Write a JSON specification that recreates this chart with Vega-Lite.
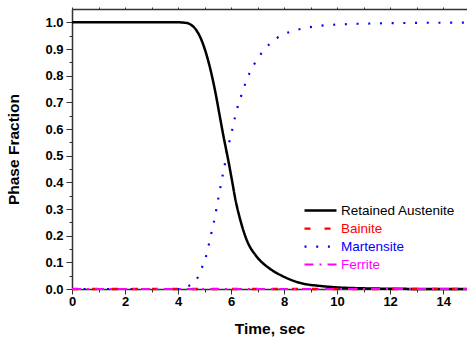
{
  "$schema": "https://vega.github.io/schema/vega-lite/v6.json",
  "width": 395,
  "height": 280,
  "autosize": {"type": "none"},
  "padding": {"left": 72, "top": 9, "right": 0, "bottom": 52},
  "background": "white",
  "config": {"view": {"stroke": null}, "font": "Liberation Sans"},
  "data": {
    "values": [
      {"p": "Martensite", "t": 0, "f": 0},
      {"p": "Martensite", "t": 4.0, "f": 0},
      {"p": "Martensite", "t": 4.2, "f": 0.002},
      {"p": "Martensite", "t": 4.35, "f": 0.008},
      {"p": "Martensite", "t": 4.5, "f": 0.018},
      {"p": "Martensite", "t": 4.7, "f": 0.036},
      {"p": "Martensite", "t": 4.89, "f": 0.078},
      {"p": "Martensite", "t": 5.04, "f": 0.117},
      {"p": "Martensite", "t": 5.14, "f": 0.157},
      {"p": "Martensite", "t": 5.23, "f": 0.198},
      {"p": "Martensite", "t": 5.32, "f": 0.237},
      {"p": "Martensite", "t": 5.41, "f": 0.279},
      {"p": "Martensite", "t": 5.48, "f": 0.32},
      {"p": "Martensite", "t": 5.56, "f": 0.36},
      {"p": "Martensite", "t": 5.63, "f": 0.4},
      {"p": "Martensite", "t": 5.71, "f": 0.44},
      {"p": "Martensite", "t": 5.79, "f": 0.481},
      {"p": "Martensite", "t": 5.86, "f": 0.521},
      {"p": "Martensite", "t": 5.96, "f": 0.562},
      {"p": "Martensite", "t": 6.05, "f": 0.6},
      {"p": "Martensite", "t": 6.15, "f": 0.644},
      {"p": "Martensite", "t": 6.25, "f": 0.684},
      {"p": "Martensite", "t": 6.38, "f": 0.724},
      {"p": "Martensite", "t": 6.52, "f": 0.765},
      {"p": "Martensite", "t": 6.68, "f": 0.806},
      {"p": "Martensite", "t": 6.89, "f": 0.846},
      {"p": "Martensite", "t": 7.16, "f": 0.886},
      {"p": "Martensite", "t": 7.53, "f": 0.926},
      {"p": "Martensite", "t": 7.96, "f": 0.954},
      {"p": "Martensite", "t": 8.39, "f": 0.969},
      {"p": "Martensite", "t": 8.82, "f": 0.979},
      {"p": "Martensite", "t": 9.25, "f": 0.986},
      {"p": "Martensite", "t": 9.69, "f": 0.99},
      {"p": "Martensite", "t": 10.1, "f": 0.992},
      {"p": "Martensite", "t": 10.53, "f": 0.994},
      {"p": "Martensite", "t": 11, "f": 0.995},
      {"p": "Martensite", "t": 12, "f": 0.997},
      {"p": "Martensite", "t": 13, "f": 0.998},
      {"p": "Martensite", "t": 14.9, "f": 0.999},
      {"p": "Retained Austenite", "t": 0, "f": 1},
      {"p": "Retained Austenite", "t": 2, "f": 1},
      {"p": "Retained Austenite", "t": 4, "f": 1},
      {"p": "Retained Austenite", "t": 4.2, "f": 0.999},
      {"p": "Retained Austenite", "t": 4.39, "f": 0.996},
      {"p": "Retained Austenite", "t": 4.5, "f": 0.99},
      {"p": "Retained Austenite", "t": 4.64, "f": 0.977},
      {"p": "Retained Austenite", "t": 4.83, "f": 0.946},
      {"p": "Retained Austenite", "t": 5.02, "f": 0.896},
      {"p": "Retained Austenite", "t": 5.21, "f": 0.828},
      {"p": "Retained Austenite", "t": 5.4, "f": 0.742},
      {"p": "Retained Austenite", "t": 5.58, "f": 0.645},
      {"p": "Retained Austenite", "t": 5.71, "f": 0.575},
      {"p": "Retained Austenite", "t": 5.81, "f": 0.525},
      {"p": "Retained Austenite", "t": 5.9, "f": 0.48},
      {"p": "Retained Austenite", "t": 6.03, "f": 0.41},
      {"p": "Retained Austenite", "t": 6.15, "f": 0.343},
      {"p": "Retained Austenite", "t": 6.34, "f": 0.262},
      {"p": "Retained Austenite", "t": 6.59, "f": 0.184},
      {"p": "Retained Austenite", "t": 6.97, "f": 0.121},
      {"p": "Retained Austenite", "t": 7.41, "f": 0.08},
      {"p": "Retained Austenite", "t": 7.91, "f": 0.05},
      {"p": "Retained Austenite", "t": 8.6, "f": 0.023},
      {"p": "Retained Austenite", "t": 9.4, "f": 0.011},
      {"p": "Retained Austenite", "t": 10, "f": 0.006},
      {"p": "Retained Austenite", "t": 11, "f": 0.0025},
      {"p": "Retained Austenite", "t": 12, "f": 0.001},
      {"p": "Retained Austenite", "t": 13, "f": 0.0003},
      {"p": "Retained Austenite", "t": 14.9, "f": 0},
      {"p": "Bainite", "t": 0, "f": 0},
      {"p": "Bainite", "t": 14.9, "f": 0},
      {"p": "Ferrite", "t": 0, "f": 0},
      {"p": "Ferrite", "t": 14.9, "f": 0}
    ]
  },
  "layer": [
    {
      "mark": {"type": "line", "clip": false, "interpolate": "monotone"},
      "encoding": {
        "x": {
          "field": "t", "type": "quantitative",
          "scale": {"domain": [0, 14.9], "nice": false, "zero": false},
          "axis": {
            "orient": "bottom",
            "title": "Time, sec",
            "values": [0,1,2,3,4,5,6,7,8,9,10,11,12,13,14],
            "labelExpr": "datum.value % 2 == 0 ? datum.label : ''",
            "tickSize": {"condition": {"test": "datum.value % 2 == 1", "value": 3}, "value": 5},
            "grid": false,
            "domainColor": "#333333", "domainWidth": 1.5,
            "tickColor": "#333333", "tickWidth": 1,
            "labelFont": "Liberation Sans", "labelFontSize": 13, "labelFontWeight": "bold", "labelColor": "black",
            "labelPadding": 1, "labelFlush": false,
            "titleFont": "Liberation Sans", "titleFontSize": 15.5, "titleFontWeight": "bold", "titleColor": "black",
            "titlePadding": 13
          }
        },
        "y": {
          "field": "f", "type": "quantitative",
          "scale": {"domain": [0, 1.05], "nice": false, "zero": false},
          "axis": {
            "title": "Phase Fraction",
            "values": [0,0.05,0.1,0.15,0.2,0.25,0.3,0.35,0.4,0.45,0.5,0.55,0.6,0.65,0.7,0.75,0.8,0.85,0.9,0.95,1.0],
            "labelExpr": "round(datum.value*20) % 2 == 1 ? '' : format(datum.value, '.1f')",
            "tickSize": {"condition": {"test": "round(datum.value*20) % 2 == 1", "value": 3}, "value": 6},
            "grid": false,
            "domainColor": "#333333", "domainWidth": 1.5,
            "tickColor": "#333333", "tickWidth": 1,
            "labelFont": "Liberation Sans", "labelFontSize": 13, "labelFontWeight": "bold", "labelColor": "black",
            "labelPadding": 3, "labelFlush": false,
            "titleFont": "Liberation Sans", "titleFontSize": 15.5, "titleFontWeight": "bold", "titleColor": "black",
            "titlePadding": 23
          }
        },
        "color": {
          "field": "p", "type": "nominal", "title": null,
          "scale": {"domain": ["Retained Austenite", "Bainite", "Martensite", "Ferrite"], "range": ["#000000", "#ff0000", "#0000ff", "#ff00ff"]},
          "legend": {
            "orient": "none", "legendX": 231, "legendY": 193,
            "symbolType": "stroke", "symbolSize": 1024,
            "clipHeight": 17.2, "rowPadding": 0, "padding": 0,
            "labelFont": "Liberation Sans", "labelFontSize": 13.5, "labelOffset": 3,
            "encode": {"labels": {"update": {"fill": {"signal": "datum.label == 'Bainite' ? '#ff0000' : datum.label == 'Martensite' ? '#0000ff' : datum.label == 'Ferrite' ? '#ff00ff' : '#000000'"}}}}
          }
        },
        "strokeDash": {
          "field": "p", "type": "nominal", "title": null,
          "scale": {"domain": ["Retained Austenite", "Bainite", "Martensite", "Ferrite"], "range": [[1, 0], [6, 14], [2, 9.7], [9, 6, 2, 6]]}
        },
        "strokeWidth": {
          "field": "p", "type": "nominal", "title": null,
          "scale": {"domain": ["Retained Austenite", "Bainite", "Martensite", "Ferrite"], "range": [2.5, 2, 2, 2.2]}
        }
      }
    },
    {
      "mark": {"type": "line", "opacity": 0},
      "encoding": {
        "x": {
          "field": "t", "type": "quantitative",
          "scale": {"domain": [0, 14.9], "nice": false, "zero": false},
          "axis": {
            "orient": "top", "title": null, "labels": false, "grid": false,
            "values": [0,1,2,3,4,5,6,7,8,9,10,11,12,13,14],
            "tickSize": 2, "tickColor": "#333333", "tickWidth": 1,
            "domainColor": "#333333", "domainWidth": 1.5
          }
        },
        "y": {
          "field": "f", "type": "quantitative",
          "scale": {"domain": [0, 1.05], "nice": false, "zero": false},
          "axis": null
        }
      }
    }
  ],
  "resolve": {"axis": {"x": "independent", "y": "independent"}}
}
